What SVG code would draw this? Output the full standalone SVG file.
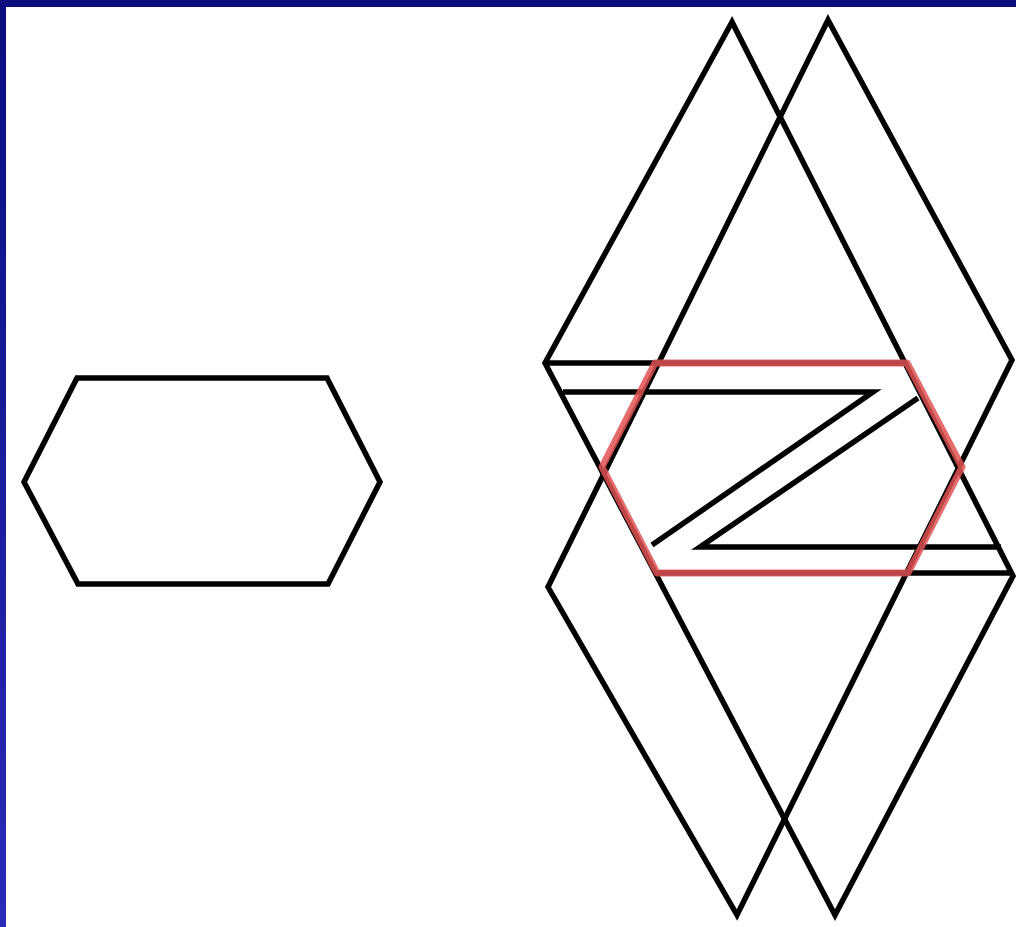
<svg xmlns="http://www.w3.org/2000/svg" width="1016" height="927" viewBox="0 0 1016 927">
  <defs>
    <linearGradient id="sideBar" x1="0" y1="0" x2="0" y2="1">
      <stop offset="0" stop-color="#0c0c7e"/>
      <stop offset="1" stop-color="#2b2bba"/>
    </linearGradient>
    <style>
      .blk { fill: none; stroke: #000; stroke-width: 5.5; stroke-linejoin: miter; stroke-linecap: butt; }
      .red { fill: none; stroke: #e05252; stroke-width: 7; stroke-opacity: 0.85; stroke-linejoin: round; }
    </style>
  </defs>
  <rect x="0" y="0" width="1016" height="927" fill="#ffffff"/>
  <rect x="0" y="0" width="1016" height="7" fill="#0c0c7e"/>
  <rect x="0" y="0" width="6" height="927" fill="url(#sideBar)"/>

  <g id="left-hexagon">
    <polygon class="blk" points="77,378 327,378 380,482 328,584 78,584 24,482"/>
  </g>

  <g id="parallelogram-a">
    <polygon class="blk" points="732,22 545,363 835,915 1013,576"/>
  </g>

  <g id="parallelogram-b">
    <polygon class="blk" points="828,20 1012,360 737,915 548,587"/>
  </g>

  <g id="connectors">
    <polyline class="blk" points="545,363 907,363"/>
    <polyline class="blk" points="657,573 1013,573"/>
    <polyline id="z-upper" class="blk" points="563,392 873,392 652,545"/>
    <polyline id="z-lower" class="blk" points="918,398 700,547 1001,547"/>
  </g>

  <g id="red-hexagon">
    <polygon class="red" points="655,363 907,363 962,467 908,573 657,573 602,467"/>
  </g>
</svg>
